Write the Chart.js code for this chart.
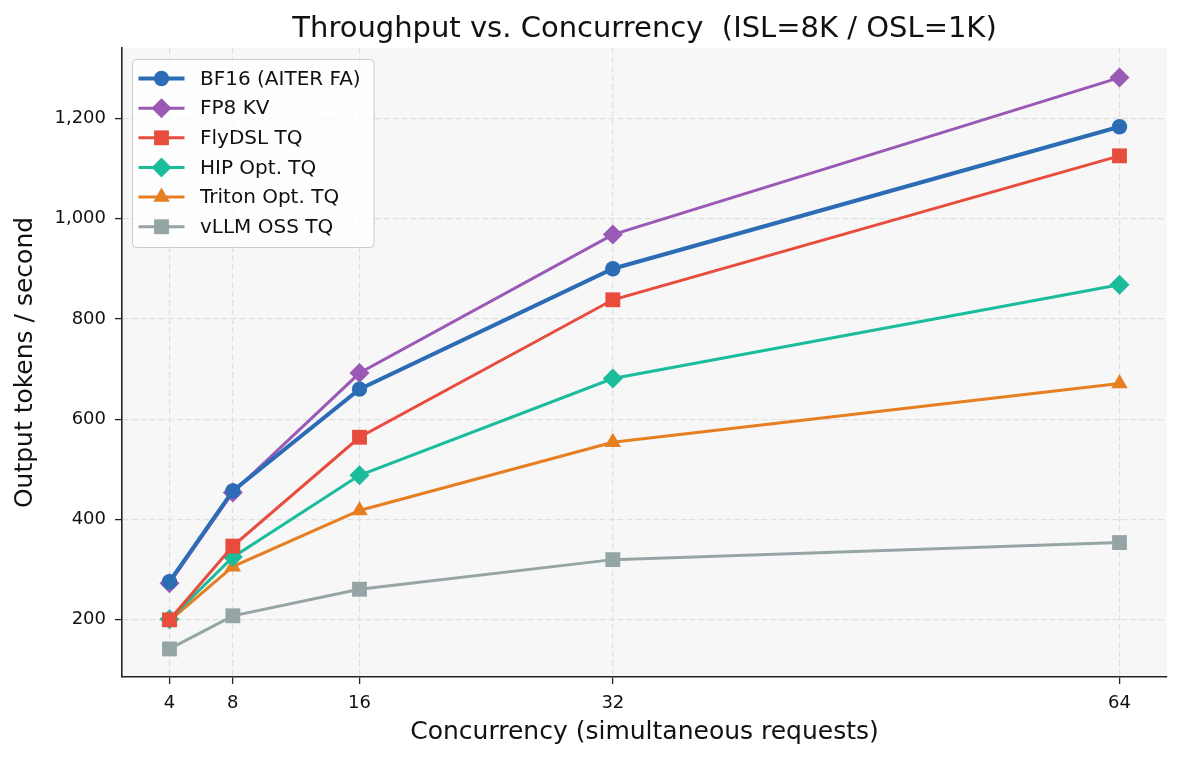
<!DOCTYPE html>
<html><head><meta charset="utf-8">
<script src="https://cdn.jsdelivr.net/npm/chart.js@4.4.1/dist/chart.umd.min.js"></script>
<style>html,body{margin:0;padding:0;background:#fff}#wrap{width:1182px;height:760px;position:relative}</style>
</head><body><div id="wrap"><canvas id="c"></canvas></div>
<script>
// ---- data ----
const concurrency = [4, 8, 16, 32, 64];
const xTickValues = [4, 8, 16, 32, 64];
const yTickValues = [200, 400, 600, 800, 1000, 1200];
const seriesNames = ['BF16 (AITER FA)', 'FP8 KV', 'FlyDSL TQ', 'HIP Opt. TQ', 'Triton Opt. TQ', 'vLLM OSS TQ'];
const bf16   = [276, 457, 660, 900, 1183];
const fp8kv  = [273, 454, 692, 968, 1281];
const flydsl = [200, 347, 564, 838, 1125];
const hipOpt = [201, 325, 488, 681, 868];
const triton = [198, 306, 418, 554, 671];
const vllm   = [142, 208, 261, 320, 354];
const titleText = 'Throughput vs. Concurrency  (ISL=8K / OSL=1K)';
const xLabel = 'Concurrency (simultaneous requests)';
const yLabel = 'Output tokens / second';

// ---- styles ----
const FONT = "'DejaVu Sans', sans-serif";
const styles = [
  {color:'#2b6cb5', style:'circle',   r:7.7,  w:4},
  {color:'#9b59b6', style:'rectRot',  r:10,   w:3},
  {color:'#e74c3c', style:'rect',     r:10.5, w:3},
  {color:'#1abc9c', style:'rectRot',  r:10,   w:3},
  {color:'#e67e22', style:'triangle', r:9.5,  w:3},
  {color:'#95a5a6', style:'rect',     r:10.5, w:3}
];
const values = [bf16, fp8kv, flydsl, hipOpt, triton, vllm];

const datasets = values.map((vals, i) => ({
  label: seriesNames[i],
  data: concurrency.map((x, j) => ({x: x, y: vals[j]})),
  borderColor: styles[i].color,
  backgroundColor: styles[i].color,
  borderWidth: styles[i].w,
  pointStyle: styles[i].style,
  pointRadius: styles[i].r,
  pointBackgroundColor: styles[i].color,
  pointBorderColor: styles[i].color,
  pointBorderWidth: 0,
  tension: 0,
  fill: false
}));

function markerPath(ctx, style, r, x, y) {
  ctx.beginPath();
  if (style === 'circle') {
    ctx.arc(x, y, r, 0, Math.PI * 2);
  } else if (style === 'rect') {
    const s = Math.SQRT1_2 * r;
    ctx.rect(x - s, y - s, 2 * s, 2 * s);
  } else if (style === 'rectRot') {
    ctx.moveTo(x - r, y); ctx.lineTo(x, y - r); ctx.lineTo(x + r, y); ctx.lineTo(x, y + r);
  } else if (style === 'triangle') {
    const a = -Math.PI / 2;
    for (let k = 0; k < 3; k++) {
      const ang = a + k * 2 * Math.PI / 3;
      const px = x + Math.cos(ang) * r, py = y + Math.sin(ang) * r;
      if (k === 0) ctx.moveTo(px, py); else ctx.lineTo(px, py);
    }
  }
  ctx.closePath();
}

const bgPlugin = {
  id: 'plotBg',
  beforeDraw(chart) {
    const {ctx, chartArea: a} = chart;
    ctx.save();
    ctx.fillStyle = '#f7f7f7';
    ctx.fillRect(a.left, a.top, a.right - a.left, a.bottom - a.top);
    ctx.restore();
  }
};

const legendPlugin = {
  id: 'mplLegend',
  afterDatasetsDraw(chart) {
    const ctx = chart.ctx;
    const x0 = 132.5, y0 = 59.5, w = 241.5, h = 188, rad = 4;
    ctx.save();
    ctx.beginPath();
    ctx.moveTo(x0 + rad, y0);
    ctx.arcTo(x0 + w, y0, x0 + w, y0 + h, rad);
    ctx.arcTo(x0 + w, y0 + h, x0, y0 + h, rad);
    ctx.arcTo(x0, y0 + h, x0, y0, rad);
    ctx.arcTo(x0, y0, x0 + w, y0, rad);
    ctx.closePath();
    ctx.fillStyle = 'rgba(255,255,255,0.8)';
    ctx.fill();
    ctx.strokeStyle = '#cccccc';
    ctx.lineWidth = 1;
    ctx.stroke();
    chart.data.datasets.forEach((ds, i) => {
      const y = 78.5 + i * 29.65;
      ctx.strokeStyle = ds.borderColor;
      ctx.lineWidth = ds.borderWidth;
      ctx.beginPath(); ctx.moveTo(138.5, y); ctx.lineTo(184.5, y); ctx.stroke();
      ctx.fillStyle = ds.pointBackgroundColor;
      markerPath(ctx, ds.pointStyle, ds.pointRadius, 161.5, y);
      ctx.fill();
      ctx.fillStyle = '#111';
      ctx.font = '20px ' + FONT;
      ctx.textAlign = 'left';
      ctx.textBaseline = 'middle';
      ctx.fillText(ds.label, 200, y + 1);
    });
    ctx.restore();
  }
};

Chart.defaults.font.family = FONT;
Chart.defaults.color = '#111';

new Chart(document.getElementById('c'), {
  type: 'line',
  data: {datasets: datasets},
  options: {
    responsive: true,
    maintainAspectRatio: false,
    animation: false,
    devicePixelRatio: 1,
    layout: {padding: {left: 0, right: 15, top: 0, bottom: 0}},
    plugins: {
      legend: {display: false},
      tooltip: {enabled: false},
      title: {
        display: true, text: titleText, fullSize: false,
        font: {size: 29, weight: 'normal', family: FONT}, color: '#111',
        padding: {top: 12, bottom: 1.2}
      }
    },
    scales: {
      x: {
        type: 'linear', min: 1, max: 67,
        afterBuildTicks: s => { s.ticks = xTickValues.map(v => ({value: v})); },
        afterFit: s => { s.height = 83; },
        ticks: {font: {size: 18}, color: '#111', padding: 9, maxRotation: 0, autoSkip: false,
                callback: v => String(v)},
        grid: {color: '#e0e0e0', lineWidth: 1.2, tickColor: '#222', tickLength: 7, tickWidth: 1.3, tickBorderDash: []},
        border: {display: true, color: '#222', width: 1.6, dash: [6, 3]},
        title: {display: true, text: xLabel, font: {size: 25}, color: '#111', padding: {top: 0, bottom: 13}}
      },
      y: {
        type: 'linear', min: 86, max: 1340,
        afterBuildTicks: s => { s.ticks = yTickValues.map(v => ({value: v})); },
        afterFit: s => { s.width = 122; },
        ticks: {font: {size: 18}, color: '#111', padding: 9, autoSkip: false,
                callback: v => Number(v).toLocaleString('en-US')},
        grid: {color: '#e0e0e0', lineWidth: 1.2, tickColor: '#222', tickLength: 7, tickWidth: 1.3, tickBorderDash: []},
        border: {display: true, color: '#222', width: 1.6, dash: [6, 3]},
        title: {display: true, text: yLabel, font: {size: 25}, color: '#111', padding: {top: 10, bottom: 0}}
      }
    }
  },
  plugins: [bgPlugin, legendPlugin]
});
</script>
</body></html>
